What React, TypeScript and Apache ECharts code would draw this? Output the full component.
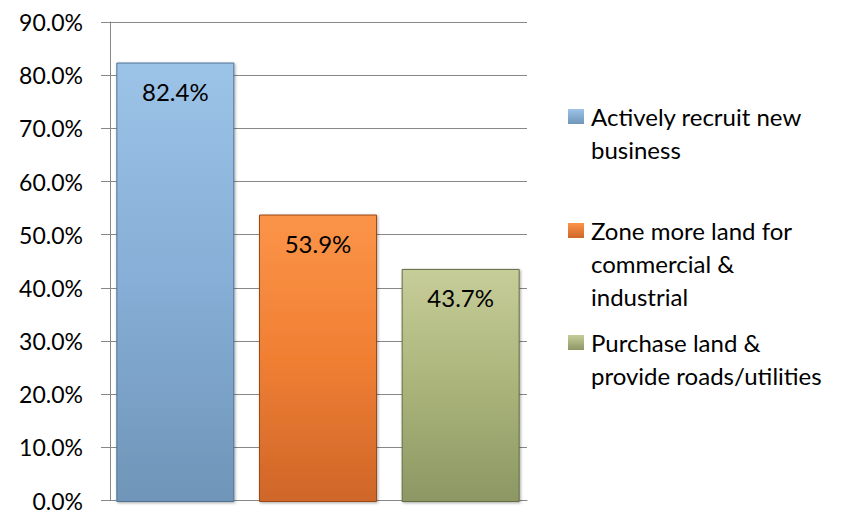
import React, { useEffect, useRef } from "react";
import * as echarts from "echarts";

const categories = ["Actively recruit new business", "Zone more land for commercial & industrial", "Purchase land & provide roads/utilities"];
const legendLabels = ["Actively recruit new\nbusiness", "Zone more land for\ncommercial &\nindustrial", "Purchase land &\nprovide roads/utilities"];
const values = [82.4, 53.9, 43.7];
const yTicks = { min: 0, max: 90, interval: 10 };

const palette = [
  { top: "#9cc4e8", mid: "#86aed6", bottom: "#6f95b8", edge: "#4f7394" },
  { top: "#fb9448", mid: "#f07f33", bottom: "#cf6629", edge: "#9c4a18" },
  { top: "#c7cd99", mid: "#aab47a", bottom: "#8c9764", edge: "#636c42" },
];

const FONT = "Lato, 'Open Sans', sans-serif";
const FS = 24;

function vGrad(c: any) {
  return new echarts.graphic.LinearGradient(0, 0, 0, 1, [
    { offset: 0, color: c.top },
    { offset: 0.5, color: c.mid },
    { offset: 1, color: c.bottom },
  ]);
}

function iconPath(lines: number) {
  const h = lines * 33;
  return `path://M0,0L0.001,0M0,9L16,9L16,24L0,24ZM0,${h}L0.001,${h}`;
}

export default function App() {
  const ref = useRef<HTMLDivElement>(null);
  useEffect(() => {
    if (!ref.current) return;
    const chart = echarts.init(ref.current, undefined, { renderer: "svg" });
    const legendTops = [100, 214, 326];
    const series = values.map((v, i) => ({
      name: categories[i],
      type: "bar",
      xAxisIndex: 1,
      yAxisIndex: 1,
      stack: "s",
      barWidth: 118,
      data: values.map((_, j) => (j === i ? v : "-")),
      itemStyle: {
        color: vGrad(palette[i]),
        borderColor: palette[i].edge,
        borderWidth: 1,
        shadowColor: "rgba(0,0,0,0.35)",
        shadowBlur: 3,
        shadowOffsetX: 1,
        shadowOffsetY: 1,
      },
      label: {
        show: true,
        position: "insideTop",
        distance: 16,
        fontSize: FS,
        lineHeight: 26,
        fontFamily: FONT,
        color: "#000",
        formatter: (p: any) => Number(p.value).toFixed(1) + "%",
      },
    }));
    const legends = categories.map((name, i) => {
      const lines = legendLabels[i].split("\n").length;
      const h = lines * 33;
      const c = palette[i];
      return {
        orient: "vertical",
        left: 568,
        top: legendTops[i],
        padding: 0,
        itemWidth: 16,
        itemHeight: h,
        selectedMode: false,
        formatter: () => legendLabels[i],
        textStyle: { fontSize: FS, lineHeight: 33, fontFamily: FONT, color: "#000", padding: [0, 0, 0, 2] },
        data: [
          {
            name,
            icon: iconPath(lines),
            itemStyle: {
              color: new echarts.graphic.LinearGradient(0, 0, 0, 1, [
                { offset: 0, color: c.top },
                { offset: 9 / h, color: c.top },
                { offset: 24 / h, color: c.bottom },
                { offset: 1, color: c.bottom },
              ]),
              borderWidth: 0,
            },
          },
        ],
      };
    });
    chart.setOption({
      animation: false,
      backgroundColor: "#fff",
      legend: legends,
      grid: [
        { left: 110, right: 323, top: 22, bottom: 10 },
        { left: 104, right: 318, top: 22, bottom: 10 },
      ],
      xAxis: [
        {
          type: "category",
          gridIndex: 0,
          data: categories,
          axisLabel: { show: false },
          axisTick: { show: false },
          axisLine: { show: true, lineStyle: { color: "#878787", width: 1 } },
        },
        { type: "category", gridIndex: 1, data: categories, show: false },
      ],
      yAxis: [
        {
          type: "value",
          gridIndex: 0,
          min: yTicks.min,
          max: yTicks.max,
          interval: yTicks.interval,
          axisLine: { show: true, lineStyle: { color: "#878787", width: 1 } },
          axisTick: { show: true, length: 9, lineStyle: { color: "#878787" } },
          splitLine: { show: true, lineStyle: { color: "#878787", width: 1 } },
          axisLabel: {
            margin: 27,
            fontSize: FS - 1,
            lineHeight: 18,
            fontFamily: FONT,
            color: "#000",
            formatter: (v: number) => v.toFixed(1) + "%",
          },
        },
        { type: "value", gridIndex: 1, min: yTicks.min, max: yTicks.max, show: false },
      ],
      series,
    });
    return () => chart.dispose();
  }, []);
  return <div ref={ref} style={{ position: "fixed", left: 0, top: 0, width: 850, height: 512 }} />;
}
